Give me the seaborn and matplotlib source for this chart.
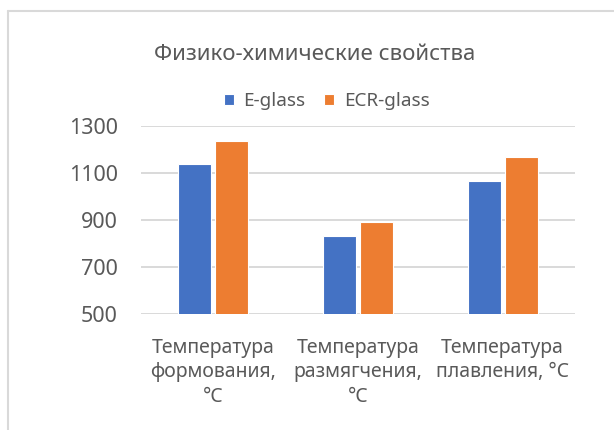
import pandas as pd
import matplotlib.pyplot as plt
import seaborn as sns
from matplotlib.lines import Line2D

# Values
categories = ['Температура\nформования,\n°C', 'Температура\nразмягчения,\n°C', 'Температура\nплавления, °C']
e_glass = [1140, 830, 1065]
ecr_glass = [1235, 890, 1170]
series = ['E-glass', 'ECR-glass']
colors = ['#4472C4', '#ED7D31']

df = pd.DataFrame({
    'cat': categories * 2,
    'series': [series[0]] * 3 + [series[1]] * 3,
    'value': e_glass + ecr_glass,
})

sns.set_style('white')
plt.rcParams['font.family'] = ['Noto Sans', 'DejaVu Sans']

fig = plt.figure(figsize=(6.14, 4.30), dpi=100)
ax = fig.add_axes([0.2296, 0.2698, 0.7069, 0.4372])

sns.barplot(data=df, x='cat', y='value', hue='series', palette=colors, ax=ax,
            width=0.51, gap=0.11, edgecolor='white', linewidth=0.8, saturation=1)

ax.set_ylim(500, 1300)
ax.set_yticks([500, 700, 900, 1100, 1300])
ax.set_xlim(-0.5, 2.5)
ax.set_xlabel('')
ax.set_ylabel('')
ax.yaxis.grid(True, color='#D9D9D9', linewidth=1.4)
ax.set_axisbelow(True)
for s in ax.spines.values():
    s.set_visible(False)
ax.tick_params(axis='y', length=0, labelsize=15.5, labelcolor='#595959', pad=16.5)
ax.tick_params(axis='x', length=0, labelsize=14, labelcolor='#595959', pad=17)
for lbl in ax.get_xticklabels():
    lbl.set_linespacing(1.3)
    lbl.set_verticalalignment('top')

sns.move_legend(ax, 'center', bbox_to_anchor=(326.5 / 614, 1 - 101.5 / 430),
                bbox_transform=fig.transFigure, ncol=2, frameon=False, title=None,
                fontsize=13.6, handlelength=0.53, handleheight=0.53, handletextpad=0.53,
                columnspacing=0.95, borderpad=0)
for t in ax.get_legend().get_texts():
    t.set_color('#595959')

fig.text(315 / 614, 1 - 60 / 430, 'Физико-химические свойства', ha='center', va='baseline',
         fontsize=16, color='#595959')

# chart frame (top and left edges visible in the crop)
fig.add_artist(Line2D([7.5 / 614, 1], [1 - 11 / 430, 1 - 11 / 430], color='#D9D9D9',
                      linewidth=1.5, transform=fig.transFigure))
fig.add_artist(Line2D([7.5 / 614, 7.5 / 614], [1 - 11 / 430, 0], color='#D9D9D9',
                      linewidth=1.5, transform=fig.transFigure))

fig.savefig('out.png', dpi=100)
